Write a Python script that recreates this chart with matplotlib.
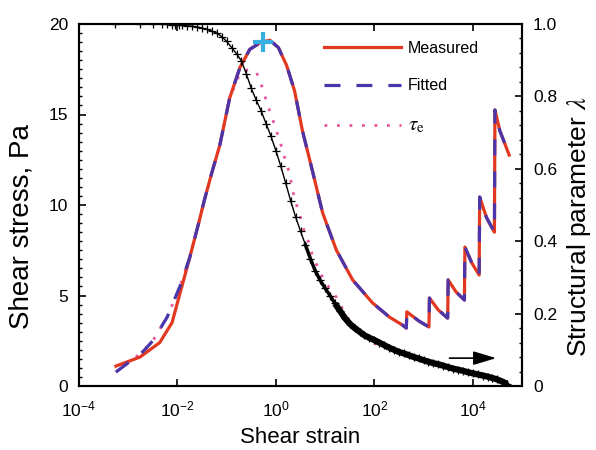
import numpy as np
import matplotlib.pyplot as plt
from matplotlib.ticker import MultipleLocator, FixedLocator, NullLocator, FuncFormatter
from matplotlib.lines import Line2D

plt.rcParams['font.family'] = ['Liberation Sans', 'DejaVu Sans']
plt.rcParams['mathtext.fontset'] = 'stix'
plt.rcParams['axes.unicode_minus'] = False

# measured shear stress (Pa), strain given as log10
meas_logx = [-3.25, -2.76, -2.36, -2.11, -1.95, -1.75, -1.55, -1.45, -1.30, -1.14,
             -0.94, -0.73, -0.53, -0.30, -0.12, 0.05, 0.22, 0.38, 0.54, 0.75,
             0.95, 1.23, 1.56, 1.96, 2.31, 2.57, 2.65, 2.66, 2.90, 3.11,
             3.12, 3.30, 3.49, 3.50, 3.66, 3.83, 3.84, 3.98, 4.13, 4.14,
             4.28, 4.44, 4.45, 4.55, 4.74]
meas_tau = [1.1, 1.6, 2.4, 3.5, 5.1, 7.1, 9.2, 10.3, 11.8, 13.3,
            15.9, 17.6, 18.6, 19.0, 19.1, 18.7, 17.7, 16.3, 14.1, 11.8,
            9.56, 7.5, 5.86, 4.6, 3.8, 3.37, 3.2, 4.1, 3.6, 3.26,
            4.86, 4.2, 3.75, 5.86, 5.2, 4.75, 7.68, 6.8, 6.13, 10.44,
            9.3, 8.5, 15.25, 14.1, 12.76]

# fitted curve: differs from measured only at small strain
fit_logx = [-3.25, -2.70, -2.50, -2.21, -1.95, -1.75] + meas_logx[6:]
fit_tau = [0.77, 1.9, 2.5, 3.8, 5.5, 7.1] + meas_tau[6:]

# elastic stress tau_e
te_logx = [-3.25, -2.70, -2.50, -2.21, -1.95, -1.75, -1.55, -1.45, -1.30, -1.14,
           -0.94, -0.73, -0.55, -0.39, -0.29, -0.23, -0.17, -0.08, -0.02, 0.08,
           0.14, 0.22, 0.28, 0.38, 0.46, 0.58, 0.69, 0.75, 0.85, 0.95,
           1.09, 1.23, 1.44, 1.96, 2.25, 2.71, 3.32, 3.93, 4.54]
te_tau = [0.77, 1.9, 2.5, 3.8, 5.5, 7.1, 9.2, 10.3, 11.8, 13.3,
          15.9, 17.3, 17.5, 17.3, 16.6, 16.1, 15.5, 14.9, 14.3, 13.6,
          12.9, 12.3, 11.7, 10.3, 9.7, 8.5, 7.8, 7.1, 6.6, 6.0,
          5.4, 4.9, 3.8, 2.4, 2.1, 1.7, 1.2, 0.77, 0.4]

# structural parameter lambda
lam_logx = [-3.27, -2.76, -2.50, -2.32, -2.22, -2.12, -2.04, -1.97, -1.90,
            -1.8, -1.7, -1.6, -1.5, -1.4, -1.3, -1.2, -1.1, -1.0, -0.9,
            -0.8, -0.7, -0.6, -0.5, -0.4, -0.3, -0.2, -0.1, 0.0, 0.1,
            0.2, 0.3, 0.4, 0.5, 0.6, 0.7, 0.8, 0.9, 1.0, 1.1,
            1.2, 1.3, 1.4, 1.5, 1.6, 1.7, 1.8, 1.9, 2.0, 2.1,
            2.2, 2.3, 2.4, 2.5, 2.6, 2.7, 2.8, 2.9, 3.0, 3.1,
            3.2, 3.3, 3.4, 3.5, 3.6, 3.7, 3.8, 3.9, 4.0, 4.1,
            4.2, 4.3, 4.4, 4.5, 4.6, 4.7]
lam_val = [1.0, 1.0, 1.0, 1.0, 0.999, 0.998, 0.997, 0.997, 0.996,
           0.995, 0.994, 0.992, 0.989, 0.985, 0.980, 0.975, 0.965, 0.952, 0.935,
           0.918, 0.898, 0.862, 0.822, 0.79, 0.76, 0.725, 0.69, 0.65, 0.607,
           0.56, 0.512, 0.467, 0.428, 0.39, 0.352, 0.318, 0.292, 0.27, 0.25,
           0.228, 0.208, 0.188, 0.172, 0.16, 0.15, 0.14, 0.133, 0.127, 0.12,
           0.113, 0.106, 0.1, 0.094, 0.09, 0.085, 0.08, 0.076, 0.071, 0.067,
           0.063, 0.06, 0.056, 0.052, 0.048, 0.045, 0.042, 0.038, 0.035, 0.032,
           0.029, 0.026, 0.022, 0.018, 0.012, 0.006]

# yield point (peak of measured curve)
peak_logx = -0.27
peak_tau = 19.0

red = '#e2381f'
blue = '#4a36aa'
pink = '#e8559c'

fig = plt.figure(figsize=(5.96, 4.5), dpi=100)
ax = fig.add_axes([79/596, 64/450, 443/596, 362/450])
ax2 = ax.twinx()

mx = 10**np.array(meas_logx)
fx = 10**np.array(fit_logx)
tx = 10**np.array(te_logx)
lx = 10**np.array(lam_logx)

ax.plot(mx, meas_tau, color=red, lw=2.3, zorder=3)
ax.plot(fx, fit_tau, color=blue, lw=2.3, ls=(0, (5, 5)), zorder=4)
ax.plot(tx, te_tau, color=pink, lw=2.0, ls=(0, (1, 3.5)), zorder=2)
ax.plot(10**peak_logx, peak_tau, marker='+', color='#36aee0', ms=15, mew=3, zorder=6)

lam = np.array(lam_val)
ax2.plot(lx, lam, color='k', lw=1.0, marker='+', ms=6, mew=0.9)
k1 = lam_logx.index(0.6)
k2 = lam_logx.index(1.2)
ax2.plot(lx[k1:], lam[k1:], color='k', lw=2.5)
ax2.plot(lx[k2:], lam[k2:], color='k', lw=4.5, solid_capstyle='butt')

ax.set_xscale('log')
ax.set_xlim(1e-4, 1e5)
ax.set_ylim(0, 20)
ax2.set_ylim(0, 1)

ax.xaxis.set_major_locator(FixedLocator([1e-4, 1e-2, 1e0, 1e2, 1e4]))
ax.xaxis.set_minor_locator(NullLocator())
ax.yaxis.set_major_locator(MultipleLocator(5))
ax.yaxis.set_minor_locator(MultipleLocator(0.5))
ax2.yaxis.set_major_locator(MultipleLocator(0.2))
ax2.yaxis.set_minor_locator(MultipleLocator(0.04))
ax2.yaxis.set_major_formatter(FuncFormatter(lambda v, p: '0' if abs(v) < 1e-9 else f'{v:.1f}'))

ax.tick_params(axis='x', which='both', direction='in', top=True, length=5, width=1.2,
               labelsize=12.5, pad=10)
ax.tick_params(axis='y', which='major', direction='in', length=5, width=1.2,
               labelsize=12.5, pad=8)
ax.tick_params(axis='y', which='minor', direction='in', length=2.5, width=1.0)
ax2.tick_params(axis='y', which='major', direction='in', length=5, width=1.2,
                labelsize=12.5, pad=8)
ax2.tick_params(axis='y', which='minor', direction='in', length=2.5, width=1.0)

for a in (ax, ax2):
    for s in a.spines.values():
        s.set_linewidth(1.5)

ax.set_xlabel('Shear strain', fontsize=16, labelpad=5)
ax.set_ylabel('Shear stress, Pa', fontsize=20)
ax2.set_ylabel(r'Structural parameter $\lambda$', fontsize=19)
ax.yaxis.set_label_coords(-0.10, 0.44)
ax2.yaxis.set_label_coords(1.098, 0.44)

handles = [Line2D([], [], color=red, lw=2.3),
           Line2D([], [], color=blue, lw=2.3, ls=(0, (5, 5))),
           Line2D([], [], color=pink, lw=2.0, ls=(0, (1, 3.5)))]
labels = ['Measured', 'Fitted', r'$\tau_{\mathrm{e}}$']
leg = ax.legend(handles, labels, loc='upper left', bbox_to_anchor=(0.535, 0.975),
                frameon=False, fontsize=11.5, handlelength=4.8, handletextpad=0.45,
                labelspacing=1.4, borderpad=0)
leg.get_texts()[2].set_fontsize(15)

ax.annotate('', xy=(0.948, 0.077), xytext=(0.83, 0.077), xycoords='axes fraction',
            arrowprops=dict(arrowstyle='-|>,head_length=1.0,head_width=0.3',
                            color='k', lw=1.2, mutation_scale=14))

fig.savefig('out.png', dpi=100)
